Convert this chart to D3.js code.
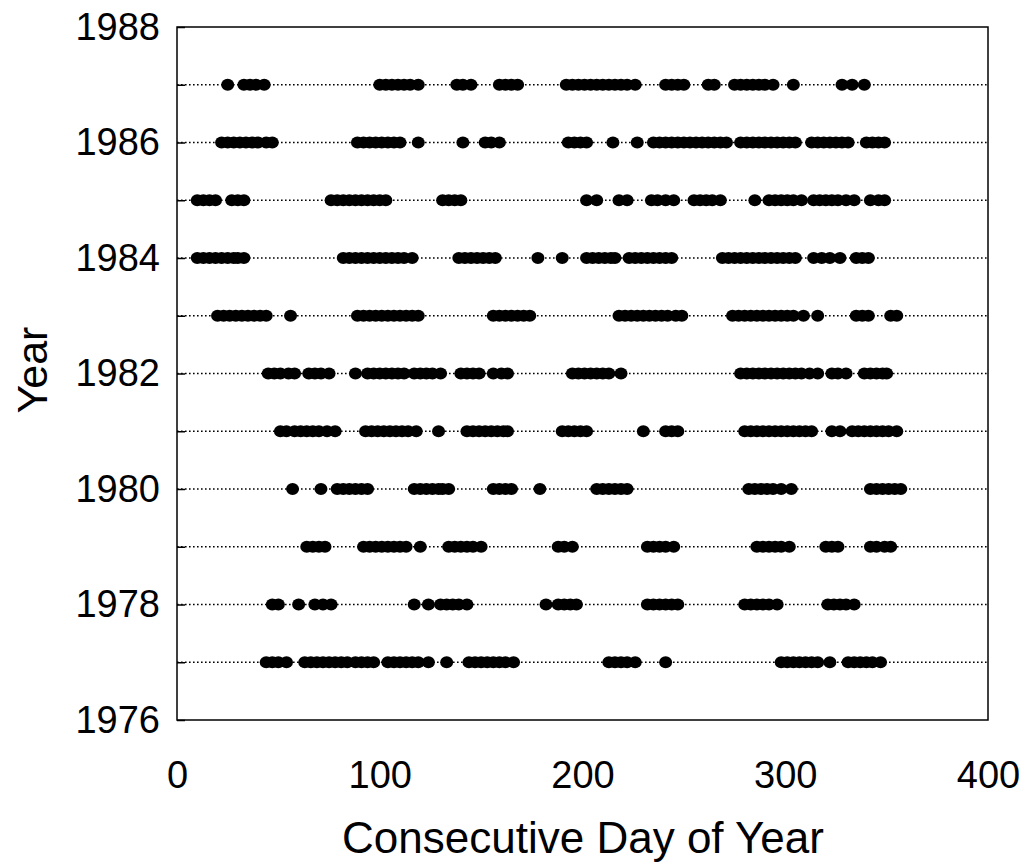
<!DOCTYPE html>
<html>
<head>
<meta charset="utf-8">
<script src="https://cdn.jsdelivr.net/npm/d3@7/dist/d3.min.js"></script>
<style>
  body { margin: 0; background: #fff; }
  text { font-family: "Liberation Sans", Arial, sans-serif; fill: #000; }
</style>
</head>
<body>
<svg id="chart" width="1023" height="866"></svg>
<script>
// tick values
var xTicks = [0, 100, 200, 300, 400];
var yTicks = [1976, 1977, 1978, 1979, 1980, 1981, 1982, 1983, 1984, 1985, 1986, 1987, 1988];

// days with an event, one list per year
var days1987 = [25, 33, 36, 39, 43, 100, 103, 106, 109, 112, 115, 119, 138, 141, 145, 159, 162, 165, 168,
  192, 195, 198, 201, 204, 207, 210, 213, 216, 219, 222, 226, 241, 244, 247, 250, 262, 265,
  275, 278, 281, 284, 287, 290, 294, 304, 328, 333, 339];
var days1986 = [22, 25, 28, 31, 34, 37, 40, 44, 47, 89, 92, 95, 98, 101, 104, 107, 110, 119, 141, 152, 155, 159,
  193, 196, 199, 202, 215, 227, 235, 238, 241, 244, 247, 250, 253, 256, 259, 262, 265, 268, 271,
  278, 281, 284, 287, 290, 293, 296, 299, 302, 305, 313, 316, 319, 322, 325, 328, 331, 340, 343, 346, 349];
var days1985 = [10, 13, 16, 19, 27, 30, 33, 76, 79, 82, 85, 88, 91, 94, 97, 100, 103, 131, 134, 137, 140,
  202, 207, 218, 222, 234, 237, 241, 245, 255, 258, 261, 264, 268, 285, 292, 295, 298, 301, 304, 308,
  314, 317, 320, 323, 326, 330, 334, 342, 346, 349];
var days1984 = [10, 13, 16, 19, 22, 25, 28, 30, 33, 82, 85, 88, 91, 94, 97, 100, 103, 106, 109, 112, 116,
  139, 142, 145, 148, 151, 154, 157, 178, 190, 202, 205, 208, 211, 214, 216, 223, 226, 229, 232, 235, 238, 241, 244,
  269, 272, 275, 278, 281, 284, 287, 290, 293, 296, 299, 302, 305, 314, 318, 322, 327, 335, 338, 341];
var days1983 = [20, 23, 26, 29, 32, 35, 38, 41, 44, 56, 89, 92, 95, 98, 101, 104, 107, 110, 113, 116, 119,
  156, 159, 162, 165, 168, 171, 174, 218, 221, 224, 227, 230, 233, 236, 239, 242, 246, 249,
  274, 277, 280, 283, 286, 289, 292, 295, 298, 301, 304, 309, 316, 335, 338, 341, 352, 355];
var days1982 = [45, 48, 51, 55, 58, 65, 68, 71, 75, 88, 94, 97, 100, 103, 106, 109, 112, 117, 120, 123, 126, 130,
  140, 143, 146, 149, 156, 160, 163, 195, 198, 201, 204, 207, 210, 213, 219,
  278, 281, 284, 287, 290, 293, 296, 299, 302, 305, 308, 312, 316, 323, 326, 330, 339, 342, 345, 348, 350];
var days1981 = [51, 54, 58, 61, 64, 67, 70, 74, 78, 93, 96, 99, 102, 105, 108, 111, 114, 118, 129,
  143, 146, 149, 152, 155, 158, 161, 163, 190, 193, 196, 199, 202, 230, 241, 244, 247,
  280, 283, 286, 289, 292, 295, 298, 301, 304, 307, 310, 313, 323, 327, 333, 336, 339, 342, 345, 348, 351, 355];
var days1980 = [57, 71, 79, 82, 85, 88, 91, 94, 117, 120, 123, 126, 129, 131, 134, 156, 159, 162, 165, 179,
  207, 210, 213, 216, 219, 222, 282, 285, 288, 291, 294, 298, 303, 342, 345, 348, 351, 354, 357];
var days1979 = [64, 67, 70, 73, 92, 95, 98, 101, 104, 107, 110, 113, 120, 134, 137, 140, 143, 146, 150,
  188, 191, 195, 232, 235, 238, 241, 245, 286, 289, 292, 295, 298, 302, 320, 323, 326, 342, 345, 349, 352];
var days1978 = [47, 50, 60, 68, 72, 76, 117, 124, 130, 133, 136, 139, 143, 182, 188, 191, 194, 197,
  232, 235, 238, 241, 244, 247, 280, 283, 286, 289, 292, 296, 321, 324, 327, 330, 334];
var days1977 = [44, 47, 50, 54, 63, 66, 69, 72, 75, 78, 81, 84, 88, 91, 94, 97, 104, 107, 110, 113, 116, 119, 124,
  133, 144, 147, 150, 153, 156, 159, 162, 166, 213, 216, 219, 222, 226, 241,
  298, 301, 304, 307, 310, 313, 316, 322, 331, 334, 337, 340, 343, 347];

var rowYears = [1977, 1978, 1979, 1980, 1981, 1982, 1983, 1984, 1985, 1986, 1987];
var rowDays = [days1977, days1978, days1979, days1980, days1981, days1982, days1983,
  days1984, days1985, days1986, days1987];

var svg = d3.select("#chart");

var x = d3.scaleLinear().domain([0, 400]).range([177, 988]);
var y = d3.scaleLinear().domain([1976, 1988]).range([720, 27]);

// dotted guide line for each year
svg.append("g")
  .selectAll("line")
  .data(rowYears)
  .join("line")
  .attr("x1", x(0))
  .attr("x2", x(400))
  .attr("y1", function (d) { return y(d); })
  .attr("y2", function (d) { return y(d); })
  .attr("stroke", "#000")
  .attr("stroke-width", 1.5)
  .attr("stroke-dasharray", "1.6,2.4");

// dots
var pts = [];
rowYears.forEach(function (yr, i) {
  rowDays[i].forEach(function (d) { pts.push({ year: yr, day: d }); });
});

svg.append("g")
  .selectAll("ellipse")
  .data(pts)
  .join("ellipse")
  .attr("cx", function (d) { return x(d.day); })
  .attr("cy", function (d) { return y(d.year); })
  .attr("rx", 6.5)
  .attr("ry", 6)
  .attr("fill", "#000");

// frame
svg.append("rect")
  .attr("x", x(0))
  .attr("y", y(1988))
  .attr("width", x(400) - x(0))
  .attr("height", y(1976) - y(1988))
  .attr("fill", "none")
  .attr("stroke", "#000")
  .attr("stroke-width", 1.5);

// y axis
var yAxis = d3.axisLeft(y)
  .tickValues(yTicks)
  .tickSizeInner(-8)
  .tickSizeOuter(0)
  .tickPadding(17)
  .tickFormat(function (d) { return d % 2 === 0 ? d : ""; });

svg.append("g")
  .attr("transform", "translate(" + x(0) + ",0)")
  .call(yAxis)
  .call(function (g) { g.select(".domain").remove(); })
  .call(function (g) {
    g.selectAll("line").attr("stroke", "#000").attr("stroke-width", 1.5);
    g.selectAll("text").attr("font-size", 38).attr("font-family", "Liberation Sans, Arial, sans-serif");
  });

// x axis
var xAxis = d3.axisBottom(x)
  .tickValues(xTicks)
  .tickSize(0)
  .tickPadding(41);

svg.append("g")
  .attr("transform", "translate(0," + y(1976) + ")")
  .call(xAxis)
  .call(function (g) { g.select(".domain").remove(); })
  .call(function (g) {
    g.selectAll("text").attr("font-size", 38).attr("font-family", "Liberation Sans, Arial, sans-serif");
  });

// axis titles
svg.append("text")
  .attr("x", 583)
  .attr("y", 853)
  .attr("text-anchor", "middle")
  .attr("font-size", 44)
  .text("Consecutive Day of Year");

svg.append("text")
  .attr("transform", "translate(47,370) rotate(-90)")
  .attr("text-anchor", "middle")
  .attr("font-size", 43)
  .text("Year");
</script>
</body>
</html>
